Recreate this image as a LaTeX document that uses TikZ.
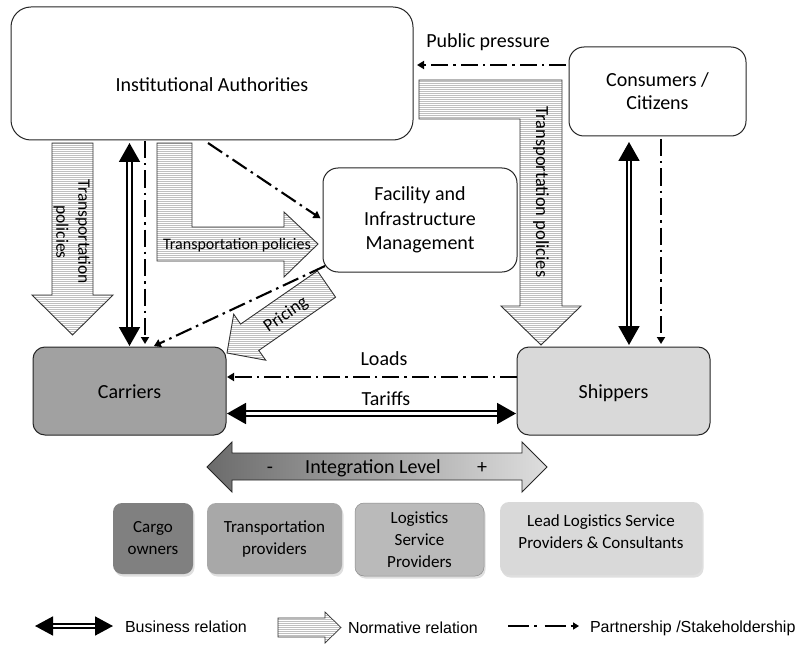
\documentclass[tikz,border=0pt]{standalone}
\usepackage{fontspec}
\setmainfont{Carlito}
\newfontfamily\legendfont{Liberation Sans}
\usetikzlibrary{arrows.meta,patterns.meta,shadows,calc}
\begin{document}
\begin{tikzpicture}[x=1pt,y=-1pt,
  every node/.style={inner sep=0pt, outer sep=0pt},
  box/.style={draw=black!85, line width=1pt, rounded corners=#1, align=center, font=\fontsize{20}{24}\selectfont},
  box/.default=14pt,
  lbl/.style={font=\fontsize{20}{24}\selectfont},
  lower/.style={rounded corners=9pt, align=center, font=\fontsize{17}{22}\selectfont,
     drop shadow={shadow xshift=1.5pt, shadow yshift=-2.5pt, opacity=0.25}},
  norm/.style={draw=black!80, line width=0.9pt, preaction={fill=white},
     pattern={Lines[angle=0,distance=2pt,line width=0.4pt]}, pattern color=black!25, line join=miter},
  biz/.style={line width=1.8pt, double=white, double distance=2.6pt,
     {Triangle[length=19pt,width=21pt]}-{Triangle[length=19pt,width=21pt]}},
  dd/.style={line width=2.1pt, dash pattern=on 17pt off 5pt on 2.5pt off 5pt,
     -{Triangle[length=7pt,width=8pt]}},
  leg/.style={font=\legendfont\fontsize{16}{19}\selectfont, anchor=base west}
]
\fill[white] (0,0) rectangle (802,647);
\useasboundingbox (0,0) rectangle (802,647);

% ---------- main boxes ----------
\node[box=20pt, minimum width=402pt, minimum height=133pt] (inst) at (212,73.5) {};
\node[lbl, anchor=base] (instlabel) at (212,91.7) {Institutional Authorities};
\node[box=15pt, minimum width=177pt, minimum height=89pt, font=\fontsize{20}{23}\selectfont] (cons) at (657.5,91.5) {Consumers /\\Citizens};
\node[box=15pt, minimum width=194pt, minimum height=104pt, font=\fontsize{20}{24.5}\selectfont] (fac) at (420,220) {Facility and\\Infrastructure\\Management};
\node[box=12pt, minimum width=193pt, minimum height=88pt, fill=black!37] (carriers) at (129.5,391) {};
\node[lbl, anchor=base] (carrierslabel) at (129.5,398) {Carriers};
\node[box=12pt, minimum width=193pt, minimum height=88pt, fill=black!15] (shippers) at (613.5,391) {};
\node[lbl, anchor=base] (shipperslabel) at (613.5,398) {Shippers};

% ---------- normative (block) arrows ----------
\draw[norm] (52,143) -- (93,143) -- (93,295) -- (113,295) -- (72.5,335) -- (32,295) -- (52,295) -- cycle;
\node[font=\fontsize{17.5}{22}\selectfont, align=center, rotate=-90] (tpleft) at (72,232) {Transportation\\policies};

\draw[norm] (157,143) -- (192,143) -- (192,227) -- (284,227) -- (284,212) -- (318,244) -- (284,277) -- (284,261) -- (157,261) -- cycle;
\node[font=\fontsize{16}{19}\selectfont] (tpmid) at (237,245) {Transportation policies};

\draw[norm] (419,80) -- (562,80) -- (562,306) -- (581,306) -- (541,345) -- (501,306) -- (520,306) -- (520,119) -- (419,119) -- cycle;
\node[font=\fontsize{18.5}{22}\selectfont, rotate=-90] (tpright) at (541,192) {Transportation policies};

\draw[norm] (335.6,297.2) -- (258.8,350.4) -- (265.7,360.2) -- (227,353) -- (233.7,314.2) -- (240.6,324.1) -- (317.4,270.9) -- cycle;
\node[font=\fontsize{18}{22}\selectfont, rotate=34.7] (pricing) at (286,315) {Pricing};

% ---------- connectors ----------
\coordinate (ypp) at (0,65);
\coordinate (yloads) at (0,377);
\coordinate (ytar) at (0,413.5);
\coordinate (xdd) at (145,0);
\coordinate (xbizr) at (629,0);
\coordinate (xddr) at (661,0);
\coordinate (instfac) at (208,143);
\coordinate (faccar) at (325,266);
\coordinate (carfac) at (152,0);

\draw[dd, shorten >=4pt, shorten <=3pt] (cons.west |- ypp) -- (inst.east |- ypp);
\node[lbl, anchor=base] (pplabel) at (488,47.5) {Public pressure};

\draw[biz, shorten <=3pt, shorten >=1pt] (carriers.north |- inst.south) -- (carriers.north);
\draw[dd, shorten <=1pt, shorten >=3pt] (xdd |- inst.south) -- (xdd |- carriers.north);
\draw[dd, shorten >=3pt] (instfac) -- (fac.west);
\draw[dd, shorten >=2pt] (faccar) -- (carfac |- carriers.north);

\draw[dd, shorten >=1pt] (shippers.west |- yloads) -- (carriers.east |- yloads);
\node[lbl, anchor=base] (loadslabel) at (384,365) {Loads};
\draw[biz, shorten <=1pt, shorten >=1pt] (carriers.east |- ytar) -- (shippers.west |- ytar);
\node[lbl, anchor=base] (tarlabel) at (386,405) {Tariffs};

\draw[biz, shorten <=6pt, shorten >=2pt] (xbizr |- cons.south) -- (xbizr |- shippers.north);
\draw[dd, shorten <=3pt, shorten >=3pt] (xddr |- cons.south) -- (xddr |- shippers.north);

% ---------- integration level ----------
\draw[line width=0.9pt, draw=black!85, left color=black!58, right color=black!13, line join=miter]
  (207,467) -- (232,442) -- (232,453) -- (522,453) -- (522,442) -- (547,467) -- (522,492) -- (522,480) -- (232,480) -- (232,492) -- cycle;
\node[lbl, anchor=base] (minus) at (270,473) {-};
\node[lbl, anchor=base] (intlabel) at (373,473) {Integration Level};
\node[lbl, anchor=base] (plus) at (482,473) {+};

% ---------- lower boxes ----------
\node[lower, fill=black!50, minimum width=80pt, minimum height=71pt] (cargo) at (153,538.5) {Cargo\\owners};
\node[lower, fill=black!34, minimum width=135pt, minimum height=71pt] (transp) at (274.5,538.5) {Transportation\\providers};
\node[lower, fill=black!27, draw=black!45, line width=0.5pt, minimum width=129pt, minimum height=73pt] (lsp) at (419.5,539.5) {Logistics\\Service\\Providers};
\node[lower, fill=black!15, minimum width=202pt, minimum height=73pt] (llsp) at (601,538.5) {};
\node[font=\fontsize{17}{22}\selectfont, align=center] (llsplabel) at (601,532) {Lead Logistics Service\\Providers \& Consultants};

% ---------- legend ----------
\coordinate (lb1) at (35,626);
\coordinate (lb2) at (113,626);
\draw[line width=1.6pt, double=white, double distance=2.4pt,
     {Triangle[length=18pt,width=19pt]}-{Triangle[length=18pt,width=19pt]}] (lb1) -- (lb2);
\node[leg] (legbiz) at (125,632.5) {Business relation};
\draw[norm, line width=0.7pt] (278,618) -- (325,618) -- (325,612) -- (341,627.5) -- (325,643) -- (325,637) -- (278,637) -- cycle;
\node[leg] (legnorm) at (348,633.5) {Normative relation};
\coordinate (lp1) at (508,626);
\coordinate (lp2) at (579,626);
\draw[line width=2.2pt, dash pattern=on 21pt off 5pt on 2.5pt off 8pt, -{Triangle[length=6pt,width=7pt]}] (lp1) -- (lp2);
\node[leg] (legpart) at (590,632.5) {Partnership /Stakeholdership};
\end{tikzpicture}
\end{document}
